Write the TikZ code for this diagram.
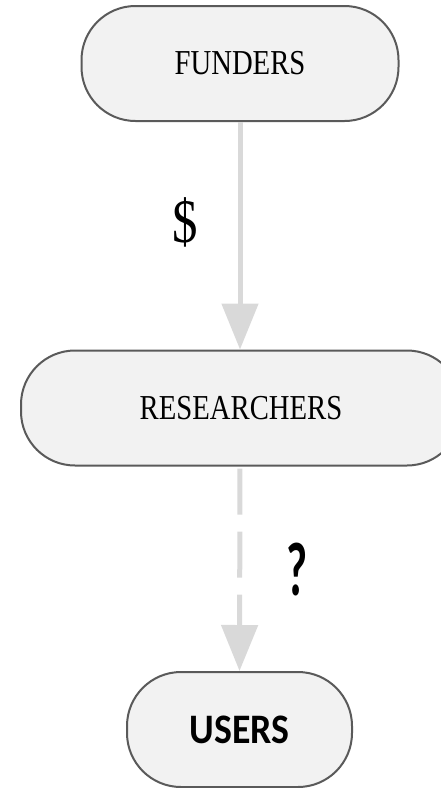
\documentclass[tikz,border=0pt]{standalone}
\usepackage{fontspec}
\setmainfont{Liberation Serif}
\newfontfamily\boxfont[FakeStretch=0.82]{Liberation Serif}
\newfontfamily\usersfont[FakeStretch=0.9]{Carlito}
\newfontfamily\queryfont[FakeStretch=0.6]{Carlito}
\usepackage{tikz}
\tikzset{>=stealth}
\usetikzlibrary{arrows.meta, positioning}
\definecolor{boxfill}{HTML}{F2F2F2}
\definecolor{boxline}{HTML}{5A5A5A}
\definecolor{flowgray}{HTML}{D9D9D9}
\tikzset{
  actor/.style={draw=boxline, line width=2pt, fill=boxfill, rounded corners=54pt,
    minimum height=115pt, inner sep=0pt, font=\boxfont\fontsize{35}{40}\selectfont},
  flow/.style={draw=flowgray, line width=5pt, -{Triangle[width=36pt,length=46pt]}},
}

\begin{document}
\begin{tikzpicture}[x=1pt,y=-1pt]
            \useasboundingbox (0,0) rectangle (440,788);
            \node[actor, minimum width=317pt] (funders) at (240,63.5) {FUNDERS};
            \node[actor, minimum width=440pt] (researchers) at (241,408) {RESEARCHERS};
            \node[actor, minimum width=225pt, font=\usersfont\bfseries\fontsize{42}{46}\selectfont] (users) at (239.5,729.5) {USERS};
            \draw[flow] (funders.south) -- (funders.south |- researchers.north);
            \draw[flow, dash pattern=on 46pt off 17pt, dash phase=-2pt] (researchers.south -| funders.south) -- (users.north);
            \node[font=\boxfont\fontsize{62}{66}\selectfont] (dollar) at (185,222) {\$};
            \node[font=\queryfont\bfseries\fontsize{76}{80}\selectfont] (query) at (297,570) {?};
\end{tikzpicture}
\end{document}
